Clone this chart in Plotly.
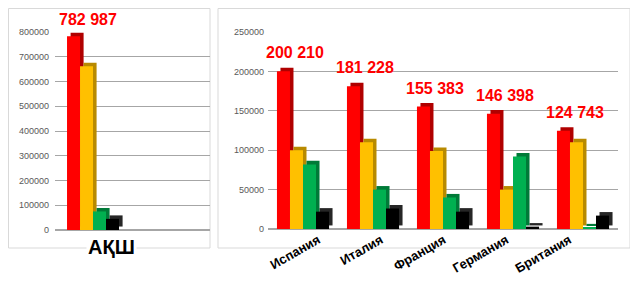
import plotly.graph_objects as go

left_cats = ["АҚШ"]
right_cats = ["Испания", "Италия", "Франция", "Германия", "Британия"]

left_s1 = [782987]
left_s2 = [662000]
left_s3 = [75000]
left_s4 = [45000]
left_label = ["782 987"]

right_s1 = [200210, 181228, 155383, 146398, 124743]
right_s2 = [100000, 110000, 99000, 50000, 110000]
right_s3 = [82000, 50000, 40000, 92000, 2000]
right_s4 = [22000, 26000, 22000, 3000, 17000]
right_labels = ["200 210", "181 228", "155 383", "146 398", "124 743"]

colors = ["#FF0000", "#FFC000", "#00B050", "#000000"]
sides = ["#B00000", "#B88A00", "#007A38", "#262626"]

# page has an 8px body margin: figure occupies 630x273 starting at (8, 8)
W, H, M = 630, 273, 8


def px(x):
    return (x - M) / W


def py(y):
    return 1 - (y - M) / H


fig = go.Figure()

# left panel: bar width 0.2 units, 3D depth emulated by a darker offset copy
lw = 0.2
ldx, ldy = 0.055, 14000
for i, vals in enumerate([left_s1, left_s2, left_s3, left_s4]):
    off = -0.4 + i * lw
    fig.add_trace(go.Bar(x=[0], y=vals, base=[ldy] * len(vals), width=lw, offset=off + ldx,
                         marker=dict(color=sides[i], line=dict(width=0)),
                         xaxis="x", yaxis="y", showlegend=False, hoverinfo="skip"))
    fig.add_trace(go.Bar(x=[0], y=vals, width=lw, offset=off,
                         marker=dict(color=colors[i], line=dict(width=0)),
                         xaxis="x", yaxis="y", showlegend=False, hoverinfo="y"))

rw = 0.186
rdx, rdy = 0.05, 4500
n = len(right_cats)
for i, vals in enumerate([right_s1, right_s2, right_s3, right_s4]):
    off = -2 * rw + i * rw
    fig.add_trace(go.Bar(x=list(range(n)), y=vals, base=[rdy] * n, width=rw, offset=off + rdx,
                         marker=dict(color=sides[i], line=dict(width=0)),
                         xaxis="x2", yaxis="y2", showlegend=False, hoverinfo="skip"))
    fig.add_trace(go.Bar(x=list(range(n)), y=vals, width=rw, offset=off,
                         marker=dict(color=colors[i], line=dict(width=0)),
                         xaxis="x2", yaxis="y2", showlegend=False, hoverinfo="y"))

# invisible carrier so the category-label axis (x3) is drawn
fig.add_trace(go.Scatter(x=list(range(n)), y=right_s4, xaxis="x3", yaxis="y2", mode="markers",
                         marker=dict(opacity=0), showlegend=False, hoverinfo="skip"))

label_font = dict(family="Liberation Sans, Arial, sans-serif", size=16, color="#FF0000")
annotations = []
annotations.append(dict(x=0, y=left_s1[0], xref="x", yref="y", text="<b>" + left_label[0] + "</b>",
                        showarrow=False, yanchor="bottom", xshift=-5, yshift=6, font=label_font))
for i, v in enumerate(right_s1):
    annotations.append(dict(x=i, y=v, xref="x2", yref="y2", text="<b>" + right_labels[i] + "</b>",
                            showarrow=False, yanchor="bottom", xshift=-8, yshift=8, font=label_font))
annotations.append(dict(x=0, y=py(247), xref="x", yref="paper", text="<b>АҚШ</b>", showarrow=False,
                        yanchor="middle", bgcolor="white", xshift=18,
                        font=dict(family="Liberation Sans, Arial, sans-serif", size=20, color="#000000")))

fig.update_layout(
    width=W, height=H,
    margin=dict(l=0, r=0, t=0, b=0, autoexpand=False),
    paper_bgcolor="white", plot_bgcolor="white",
    barmode="overlay",
    font=dict(family="Liberation Sans, Arial, sans-serif", color="#595959"),
    xaxis=dict(domain=[px(55), px(210)], range=[-0.585, 1.8], showticklabels=False,
               showgrid=False, zeroline=False, showline=False, anchor="y", automargin=False),
    yaxis=dict(domain=[py(230), py(32)], range=[0, 800000], dtick=100000,
               tickformat="d", showgrid=True, gridcolor="#A6A6A6", gridwidth=1,
               zeroline=True, zerolinecolor="#A6A6A6", tickfont=dict(size=9, color="#595959"),
               ticks="", ticklabelstandoff=5, anchor="x", automargin=False),
    xaxis2=dict(domain=[px(268), px(618)], range=[-0.5, 4.5], showticklabels=False,
                showgrid=False, zeroline=False, showline=False, anchor="y2", automargin=False),
    # category labels sit on the perspective floor front, slightly compressed
    xaxis3=dict(range=[-0.796, 4.777], tickmode="array",
                tickvals=list(range(n)), ticktext=["<b>" + c + "</b>" for c in right_cats],
                tickangle=-30, tickfont=dict(size=13, color="#000000"),
                showgrid=False, zeroline=False, showline=False, anchor="y2", overlaying="x2",
                automargin=False),
    yaxis2=dict(domain=[py(229), py(32)], range=[0, 250000], dtick=50000,
                tickformat="d", showgrid=True, gridcolor="#A6A6A6", gridwidth=1,
                zeroline=True, zerolinecolor="#A6A6A6", tickfont=dict(size=9, color="#595959"),
                ticks="", ticklabelstandoff=3, anchor="x2", automargin=False),
    annotations=annotations,
    shapes=[
        dict(type="rect", xref="paper", yref="paper", x0=px(8.5), x1=px(210),
             y0=py(248), y1=py(8.5), line=dict(color="#D9D9D9", width=1), layer="below"),
        dict(type="rect", xref="paper", yref="paper", x0=px(218), x1=px(630),
             y0=py(248), y1=py(8.5), line=dict(color="#D9D9D9", width=1), layer="below"),
    ],
)

fig.write_html("out.html")
